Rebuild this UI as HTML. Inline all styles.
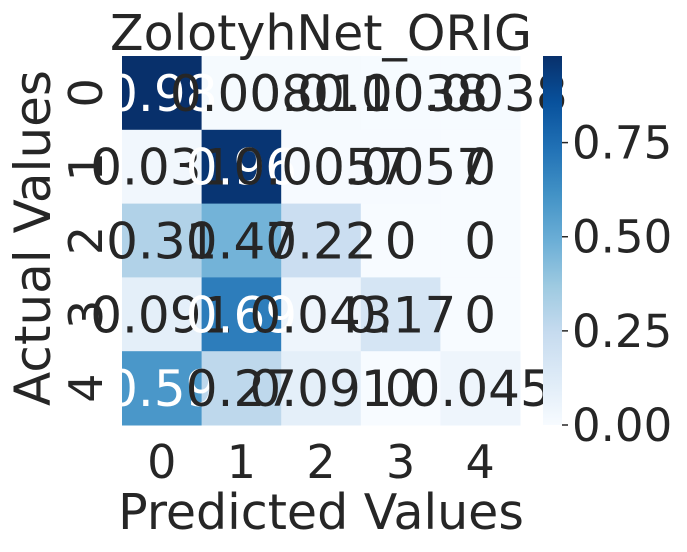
<!DOCTYPE html>
<html><head><meta charset="utf-8"><style>
html,body{margin:0;padding:0;background:#fff;}
svg text{font-family:"DejaVu Sans","Liberation Sans",sans-serif;fill:#262626;}
</style></head><body>
<svg width="687" height="547" viewBox="0 0 687 547">
<g id="cells"></g>
<g id="annots"></g>
<g id="ticks"></g>
<defs><linearGradient id="cbg" x1="0" y1="1" x2="0" y2="0"></linearGradient></defs>
<rect x="543" y="56" width="19" height="369" fill="url(#cbg)"/>
<g id="cbticks"></g>
<text x="321" y="50" font-size="49" text-anchor="middle">ZolotyhNet_ORIG</text>
<text x="321" y="529" font-size="49" text-anchor="middle">Predicted Values</text>
<text transform="translate(50,238) rotate(-90)" font-size="50" text-anchor="middle">Actual Values</text>
</svg>
<script>
const rowLabels = ['0','1','2','3','4'];
const colLabels = ['0','1','2','3','4'];
const row0 = [0.98, 0.008, 0.011, 0.0038, 0.0038];
const row1 = [0.031, 0.96, 0.0057, 0.0057, 0];
const row2 = [0.31, 0.47, 0.22, 0, 0];
const row3 = [0.091, 0.69, 0.043, 0.17, 0];
const row4 = [0.59, 0.27, 0.091, 0, 0.045];
const cbTicks = [0, 0.25, 0.5, 0.75];
const cbTickLabels = ['0.00','0.25','0.50','0.75'];
const matrix = [row0,row1,row2,row3,row4];
const ns='http://www.w3.org/2000/svg';
const X0=122,X1=520,Y0=56,Y1=425;
const vmin=0, vmax=Math.max(...matrix.flat());
const cw=(X1-X0)/colLabels.length, ch=(Y1-Y0)/rowLabels.length;
const stops=['#f7fbff','#deebf7','#c6dbef','#9ecae1','#6baed6','#4292c6','#2171b5','#08519c','#08306b'];
function hex(h){return [1,3,5].map(i=>parseInt(h.substr(i,2),16));}
function cmap(t){t=Math.max(0,Math.min(1,t));const p=t*8,i=Math.min(7,Math.floor(p)),f=p-i;const a=hex(stops[i]),b=hex(stops[i+1]);return a.map((v,k)=>Math.round(v+(b[k]-v)*f));}
function lum(c){const l=c.map(v=>{v/=255;return v<=0.03928?v/12.92:Math.pow((v+0.055)/1.055,2.4);});return 0.2126*l[0]+0.7152*l[1]+0.0722*l[2];}
function fmt(v){if(v===0)return '0';return String(parseFloat(v.toPrecision(2)));}
function mk(tag,attrs,parent){const e=document.createElementNS(ns,tag);for(const k in attrs)e.setAttribute(k,attrs[k]);parent.appendChild(e);return e;}
const cells=document.getElementById('cells'),ann=document.getElementById('annots'),tk=document.getElementById('ticks'),cbt=document.getElementById('cbticks');
matrix.forEach((row,r)=>row.forEach((v,c)=>{
  const col=cmap((v-vmin)/(vmax-vmin));
  const rc=mk('rect',{x:X0+c*cw,y:Y0+r*ch,width:cw+0.5,height:ch+0.5,fill:`rgb(${col})`},cells);
  
  
}));
matrix.forEach((row,r)=>row.forEach((v,c)=>{
  const col=cmap((v-vmin)/(vmax-vmin));
  const t=mk('text',{x:X0+(c+0.5)*cw,y:Y0+(r+0.5)*ch+18,'font-size':50,'text-anchor':'middle'},ann);
  t.style.fill=lum(col)<0.408?'#ffffff':'#262626';
  t.textContent=fmt(v);
  
  
}));
colLabels.forEach((l,c)=>{
  const t=mk('text',{x:X0+(c+0.5)*cw,y:478,'font-size':46,'text-anchor':'middle'},tk);
  t.textContent=l;
  
  
});
rowLabels.forEach((l,r)=>{
  const cy=Y0+(r+0.5)*ch;
  const t=mk('text',{transform:`translate(102,${cy}) rotate(-90)`,'font-size':46,'text-anchor':'middle'},tk);
  t.textContent=l;
  
  
});
const g=document.getElementById('cbg');
stops.forEach((s,i)=>mk('stop',{offset:(i/8),'stop-color':s},g));
cbTicks.forEach((v,i)=>{
  const y=Y1-(v-vmin)/(vmax-vmin)*(Y1-Y0);
  const ln=mk('line',{x1:562,x2:568,y1:y,y2:y,stroke:'#262626','stroke-width':1.5},cbt);
  
  
  const t=mk('text',{x:572,y:y+16,'font-size':45},cbt);
  t.textContent=cbTickLabels[i];
  
  
});
</script>
</body></html>
